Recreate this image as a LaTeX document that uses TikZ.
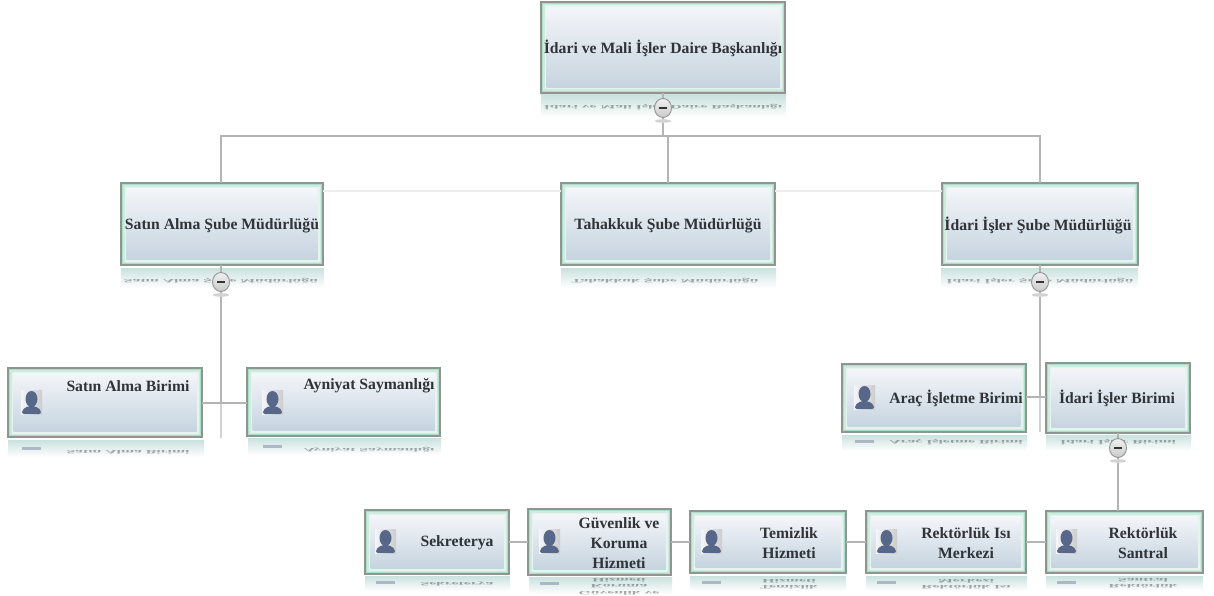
\documentclass[tikz,border=0pt]{standalone}
\usepackage{fontspec}
\usepackage{graphicx}
\setmainfont{Liberation Serif}
\usetikzlibrary{calc,shapes.geometric}
\definecolor{frameC}{HTML}{8E9692}
\definecolor{glowA}{HTML}{ABDDC8}
\definecolor{glowB}{HTML}{CDEBDF}
\definecolor{glowD}{HTML}{E6F3EF}
\definecolor{bodyT}{HTML}{F3F5F9}
\definecolor{bodyB}{HTML}{C6D4DF}
\definecolor{lineC}{HTML}{B4B4B4}
\definecolor{faintC}{HTML}{EEEEEE}
\definecolor{textC}{HTML}{303438}
\definecolor{figC}{HTML}{56678A}
\tikzset{
  x=1pt,y=-1pt,
  orgframe/.style={draw=frameC,line width=1.3pt,fill=glowA,inner sep=0pt,outer sep=0pt},
  orgtext/.style={text=textC,font=\fontsize{15.7}{20}\selectfont\bfseries,align=center,inner sep=0pt,yshift=-1pt},
  orgrefl/.style={text=textC,opacity=.42,font=\fontsize{15.7}{20}\selectfont\bfseries,inner sep=0pt},
  conn/.style={draw=lineC,line width=1.6pt},
  connfaint/.style={draw=faintC,line width=1.3pt},
  togglebtn/.style={ellipse,draw=gray!85,line width=.9pt,top color=gray!12,bottom color=gray!42,minimum width=17pt,minimum height=19pt,inner sep=0pt},
}
\newcommand{\obox}[5]{%
  \node[orgframe,minimum width={(#4-#2)*1pt},minimum height={(#5-#3)*1pt}] (#1) at ({(#2+#4)/2},{(#3+#5)/2}) {};
  \fill[glowB] ($(#1.north west)+(2,2)$) rectangle ($(#1.south east)+(-2,-2)$);
  \fill[glowD] ($(#1.north west)+(3.5,3.5)$) rectangle ($(#1.south east)+(-3.5,-3.5)$);
  \shade[top color=bodyT,bottom color=bodyB] ($(#1.north west)+(5.5,5.5)$) rectangle ($(#1.south east)+(-5.5,-5.5)$);
}
\newcommand{\orefl}[6]{%
  \shade[top color=glowB!60!bodyB,bottom color=white] (#1,#2) rectangle (#3,#4);
  \orefltext{#5}{#6}}
\newcommand{\orefltext}[3]{%
  \node[orgrefl] at (#1,#2) {\scalebox{1}[-0.33]{\begin{tabular}{@{}c@{}}#3\end{tabular}}};}
\newcommand{\oicon}[3]{%
  \shade[left color=bodyT,right color=gray!40] (#1,#2) rectangle ++(21,24);
  \fill[figC] (#1+10.5,#2+9) ellipse (6 and 8);
  \fill[figC,rounded corners=2pt] (#1+1,#2+24) -- (#1+1,#2+20) -- (#1+7,#2+16) -- (#1+14,#2+16) -- (#1+20,#2+20) -- (#1+20,#2+24) -- cycle;
  \fill[figC!70!white,opacity=.6] (#1+1,#3) rectangle (#1+20,#3+3);
}
\newcommand{\obutton}[3]{%
  \fill[gray!35] (#2,#3+13) ellipse (8 and 1.8);
  \node[togglebtn] (#1) at (#2,#3) {};
  \fill[black!80] (#2-4,#3-1.4) rectangle (#2+4,#3+1.4);
}
\begin{document}
\begin{tikzpicture}
\useasboundingbox (0,0) rectangle (1214,596);
% reflections
\orefl{541}{95}{786}{117}{663}{107}{İdari ve Mali İşler Daire Başkanlığı}
\orefl{121}{268}{324}{288}{221}{281}{Satın Alma Şube Müdürlüğü}
\orefl{561}{268}{776}{288}{665}{281}{Tahakkuk Şube Müdürlüğü}
\orefl{941}{268}{1138}{288}{1040}{281}{İdari İşler Şube Müdürlüğü}
\orefl{8}{440}{204}{457}{128}{452}{Satın Alma Birimi}
\orefl{248}{438}{441}{455}{369}{450}{Ayniyat Saymanlığı}
\orefl{842}{435}{1027}{451}{956}{442}{Araç İşletme Birimi}
\orefl{1046}{435}{1191}{451}{1118}{442}{İdari İşler Birimi}
\orefl{365}{576}{510}{591}{457}{584}{Sekreterya}
\orefl{529}{577}{672}{594}{619}{586}{Güvenlik ve\\Koruma\\Hizmeti}
\orefl{690}{576}{846}{591}{789}{584}{Temizlik\\Hizmeti}
\orefl{866}{576}{1027}{591}{966}{584}{Rektörlük Isı\\Merkezi}
\orefl{1046}{576}{1203}{590}{1143}{583}{Rektörlük\\Santral}
% boxes
\obox{top}{541}{2}{785}{93}
\obox{satin}{121}{183}{323}{265}
\obox{tah}{561}{183}{775}{265}
\obox{idari}{942}{183}{1138}{265}
\obox{sab}{8}{368}{202}{437}
\obox{ayn}{247}{368}{440}{436}
\obox{arac}{842}{364}{1026}{432}
\obox{iib}{1046}{363}{1190}{433}
\obox{sek}{365}{510}{509}{574}
\obox{guv}{528}{509}{671}{575}
\obox{tem}{690}{511}{846}{573}
\obox{isi}{866}{511}{1026}{573}
\obox{san}{1046}{511}{1203}{573}
% labels
\node[orgtext] (topT) at (663,48) {İdari ve Mali İşler Daire Başkanlığı};
\node[orgtext] (satinT) at (222,225) {Satın Alma Şube Müdürlüğü};
\node[orgtext] (tahT) at (668,225) {Tahakkuk Şube Müdürlüğü};
\node[orgtext] (idariT) at (1038,225) {İdari İşler Şube Müdürlüğü};
\node[orgtext] (sabT) at (128,385) {Satın Alma Birimi};
\node[orgtext] (aynT) at (369,385) {Ayniyat Saymanlığı};
\node[orgtext] (aracT) at (956,397) {Araç İşletme Birimi};
\node[orgtext] (iibT) at (1117,397) {İdari İşler Birimi};
\node[orgtext] (sekT) at (457,542) {Sekreterya};
\node[orgtext] (guvT) at (619,542) {Güvenlik ve\\Koruma\\Hizmeti};
\node[orgtext] (temT) at (789,542) {Temizlik\\Hizmeti};
\node[orgtext] (isiT) at (966,542) {Rektörlük Isı\\Merkezi};
\node[orgtext] (sanT) at (1143,542) {Rektörlük\\Santral};
% icons
\oicon{21}{390}{447}
\oicon{262}{390}{445}
\oicon{854}{385}{440}
\oicon{375}{529}{581}
\oicon{539}{529}{582}
\oicon{701}{529}{581}
\oicon{876}{529}{581}
\oicon{1056}{529}{581}
% junction coordinates
\coordinate (jt) at (663,136);
\coordinate (jt2) at (668,136);
\coordinate (jl) at (221,136);
\coordinate (jr) at (1040,136);
\coordinate (vl) at (221,403);
\coordinate (vle) at (221,438);
\coordinate (vr) at (1040,397);
\coordinate (vre) at (1040,432);
% connectors
\draw[connfaint] (satin.east |- 0,191) -- (tah.west |- 0,191);
\draw[connfaint] (tah.east |- 0,191) -- (idari.west |- 0,191);
\draw[conn] (top.south -| jt) -- (jt);
\draw[conn] (jl |- satin.north) -- (jl) -- (jr) -- (jr |- idari.north);
\draw[conn] (jt2) -- (jt2 |- tah.north);
\draw[conn] (jl |- satin.south) -- (vl);
\draw[conn,draw=lineC!60] (vl) -- (vle);
\draw[conn] (sab.east |- vl) -- (ayn.west |- vl);
\draw[conn] (jr |- idari.south) -- (vr);
\draw[conn,draw=lineC!60] (vr) -- (vre);
\draw[conn] (arac.east |- vr) -- (iib.west |- vr);
\draw[conn] (iib.south -| 1118,0) -- (san.north -| 1118,0);
\draw[conn] (sek.east |- 0,542) -- (guv.west |- 0,542);
\draw[conn] (guv.east |- 0,542) -- (tem.west |- 0,542);
\draw[conn] (tem.east |- 0,542) -- (isi.west |- 0,542);
\draw[conn] (isi.east |- 0,542) -- (san.west |- 0,542);
% toggles
\obutton{b1}{663}{108}
\obutton{b2}{221}{282}
\obutton{b3}{1040}{282}
\obutton{b4}{1118}{448}
\end{tikzpicture}
\end{document}
